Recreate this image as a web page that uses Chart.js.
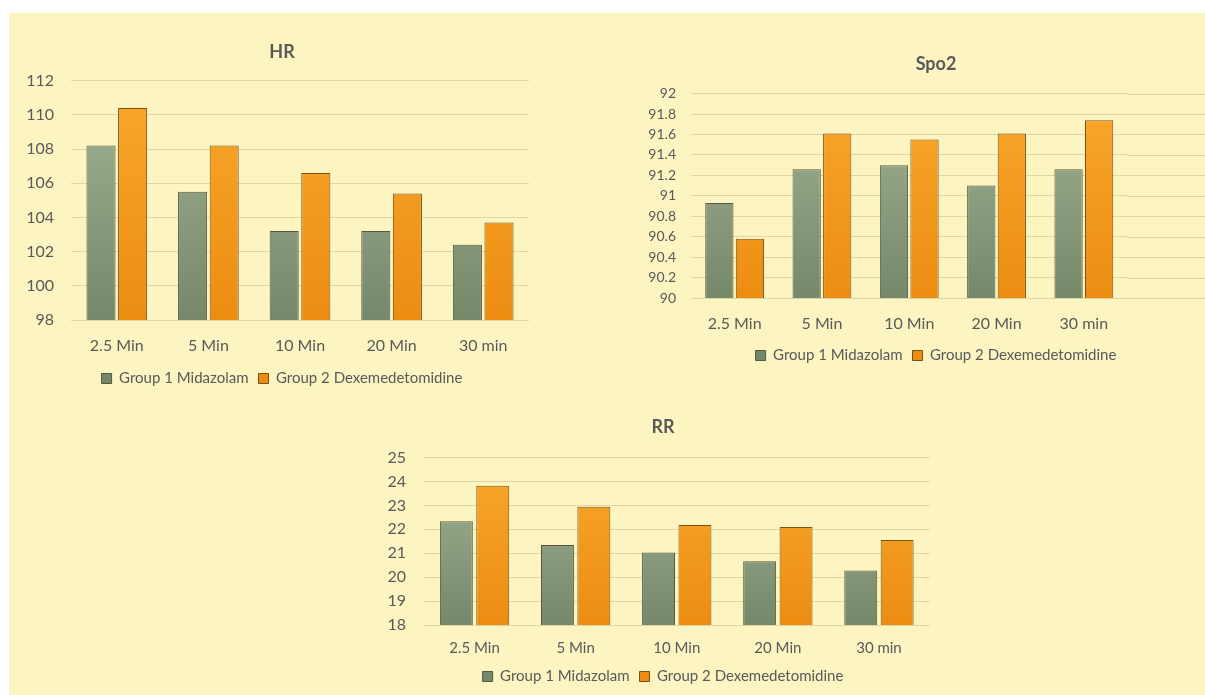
<!DOCTYPE html>
<html>
<head>
<meta charset="utf-8">
<script src="https://cdn.jsdelivr.net/npm/chart.js@4.4.1/dist/chart.umd.min.js"></script>
<style>
  html, body { margin: 0; padding: 0; background: #fff; }
  #stage { position: relative; width: 1205px; height: 695px; overflow: hidden; background: #fff; }
  #panel { position: absolute; left: 9px; top: 13px; width: 1196px; height: 682px; background: #fcf5c2; }
  canvas { position: absolute; }
</style>
</head>
<body>
<div id="stage">
  <div id="panel"></div>
  <canvas id="hrChart" style="left:12px;top:13px;width:540px;height:383px"></canvas>
  <canvas id="spoChart" style="left:645px;top:30px;width:582px;height:343px"></canvas>
  <canvas id="rrChart" style="left:380px;top:395px;width:566px;height:299px"></canvas>
</div>
<script>
  // data
  var categories = ['2.5 Min', '5 Min', '10 Min', '20 Min', '30 min'];
  var seriesNames = ['Group 1 Midazolam', 'Group 2 Dexemedetomidine'];

  var hrMidazolam = [108.2, 105.5, 103.2, 103.2, 102.4];
  var hrDexmed = [110.4, 108.2, 106.6, 105.4, 103.7];
  var hrTicks = [98, 100, 102, 104, 106, 108, 110, 112];

  var spoMidazolam = [90.93, 91.26, 91.3, 91.1, 91.26];
  var spoDexmed = [90.58, 91.61, 91.55, 91.61, 91.74];
  var spoTicks = [90, 90.2, 90.4, 90.6, 90.8, 91, 91.2, 91.4, 91.6, 91.8, 92];

  var rrMidazolam = [22.34, 21.35, 21.03, 20.67, 20.28];
  var rrDexmed = [23.82, 22.94, 22.18, 22.1, 21.55];
  var rrTicks = [18, 19, 20, 21, 22, 23, 24, 25];

  var TEXT = '#595959';
  var GRID = '#e0d6a2';
  var FONT = 'Lato, "Open Sans", sans-serif';

  function vGradient(top, bottom) {
    return function (ctx) {
      var area = ctx.chart.chartArea;
      if (!area) return bottom;
      var g = ctx.chart.ctx.createLinearGradient(0, area.top, 0, area.bottom);
      g.addColorStop(0, top);
      g.addColorStop(1, bottom);
      return g;
    };
  }

  // keeps the horizontal grid running to the canvas edge (Spo2 chart)
  var extendGrid = {
    id: 'extendGrid',
    beforeDatasetsDraw: function (chart, args, opts) {
      if (!opts.on) return;
      var y = chart.scales.y, c = chart.ctx;
      c.save();
      c.strokeStyle = GRID;
      c.lineWidth = 1;
      y.ticks.forEach(function (t, i) {
        var py = Math.round(y.getPixelForTick(i)) + 0.5;
        c.beginPath();
        c.moveTo(chart.chartArea.right, py);
        c.lineTo(chart.width, py);
        c.stroke();
      });
      c.restore();
    }
  };

  function makeChart(id, cfg) {
    return new Chart(document.getElementById(id), {
      type: 'bar',
      data: {
        labels: categories,
        datasets: [{
          label: seriesNames[0],
          data: cfg.a,
          backgroundColor: vGradient('#a3b494', '#76886a'),
          borderColor: '#55563c',
          borderWidth: 1,
          categoryPercentage: cfg.cat,
          barPercentage: cfg.bar,
        }, {
          label: seriesNames[1],
          data: cfg.b,
          backgroundColor: vGradient('#f8a82c', '#ec8d12'),
          borderColor: '#7a5116',
          borderWidth: 1,
          categoryPercentage: cfg.cat,
          barPercentage: cfg.bar,
        }],
      },
      plugins: [extendGrid],
      options: {
        responsive: false,
        animation: false,
        layout: { padding: 0 },
        plugins: {
          extendGrid: { on: !!cfg.extend },
          title: {
            display: true,
            text: cfg.title,
            color: TEXT,
            font: { family: FONT, size: 18, weight: 'bold' },
            padding: { top: cfg.titleTop, bottom: cfg.titleBottom },
          },
          legend: {
            position: 'bottom',
            labels: {
              color: TEXT,
              font: { family: FONT, size: 15 },
              boxWidth: 10,
              boxHeight: 10,
              padding: 10,
            },
          },
          tooltip: { enabled: false },
        },
        scales: {
          x: {
            grid: { display: false },
            border: { display: false },
            ticks: { color: TEXT, font: { family: FONT, size: cfg.xFont }, padding: cfg.xPad },
            afterFit: function (s) {
              s.height = s.chart.height - s.chart.legend.height - cfg.bottom;
            },
          },
          y: {
            min: cfg.ticks[0],
            max: cfg.ticks[cfg.ticks.length - 1],
            afterBuildTicks: function (s) {
              s.ticks = cfg.ticks.map(function (v) { return { value: v }; });
            },
            grid: { color: GRID, drawTicks: false },
            border: { display: false },
            ticks: {
              color: TEXT,
              font: { family: FONT, size: cfg.yFont },
              padding: cfg.yPad,
              callback: function (v) { return String(Number(v.toFixed(1))); },
            },
            afterFit: function (s) { s.width = cfg.left; },
          },
          // empty right-hand axis, only used as a spacer so the title and
          // legend stay centred on the whole canvas
          yr: {
            type: 'linear',
            position: 'right',
            grid: { display: false },
            border: { display: false },
            ticks: { display: false },
            afterFit: function (s) { s.width = cfg.right; },
          },
        },
      },
    });
  }

  makeChart('hrChart', {
    title: 'HR', a: hrMidazolam, b: hrDexmed, ticks: hrTicks,
    cat: 0.69, bar: 0.92,
    left: 59, right: 23, titleTop: 28, titleBottom: 18, bottom: 307,
    xFont: 16, xPad: 8, yFont: 16, yPad: 17,
  });

  makeChart('spoChart', {
    title: 'Spo2', a: spoMidazolam, b: spoDexmed, ticks: spoTicks,
    cat: 0.70, bar: 0.925, extend: true,
    left: 46, right: 99.5, titleTop: 23, titleBottom: 19, bottom: 268,
    xFont: 16, xPad: 8, yFont: 14, yPad: 15,
  });

  makeChart('rrChart', {
    title: 'RR', a: rrMidazolam, b: rrDexmed, ticks: rrTicks,
    cat: 0.72, bar: 0.905,
    left: 44, right: 16.5, titleTop: 21, titleBottom: 20, bottom: 230,
    xFont: 15, xPad: 6, yFont: 16, yPad: 18,
  });
</script>
</body>
</html>
